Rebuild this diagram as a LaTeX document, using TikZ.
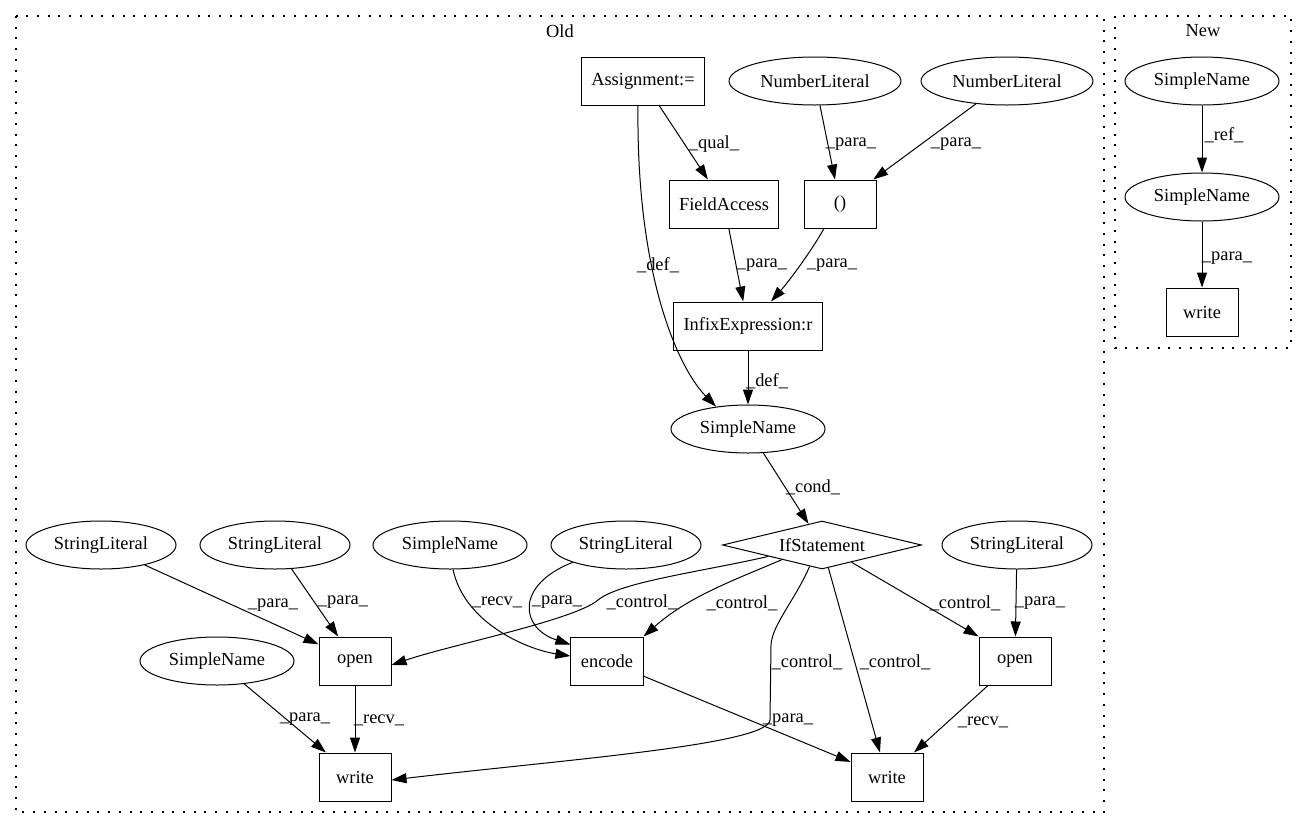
\documentclass[tikz,border=0pt]{standalone}
\usepackage{fontspec}
\setmainfont{Liberation Serif}
\usetikzlibrary{shapes.geometric,arrows.meta}

\tikzset{
  box/.style={draw, rectangle, line width=1, minimum width=72, minimum height=48, inner xsep=10},
  ell/.style={draw, ellipse, line width=1, minimum height=48, inner sep=0},
  sname/.style={ell, minimum width=154},
  slit/.style={ell, minimum width=150},
  nlit/.style={ell, minimum width=172},
  edge/.style={-{Triangle[length=15,width=10]}, line width=1},
  lbl/.style={inner sep=1},
  cluster/.style={line width=1.3, dash pattern=on 2pt off 8.7pt, line cap=butt}
}

\begin{document}
\begin{tikzpicture}[x=1pt, y=-1pt, font=\fontsize{18.4}{22}\selectfont]
  \useasboundingbox (0,0) rectangle (1307,828);
  % clusters
  \draw[cluster] (16,16) rectangle (1104,812);
  \node (old) at (560,31) {Old};
  \draw[cluster] (1115,16) rectangle (1291,348);
  \node (new) at (1203,31) {New};

  % Old graph
  \node[box] (asg) at (643,81) {Assignment:=};
  \node[nlit] (num1) at (815,81) {NumberLiteral};
  \node[nlit] (num2) at (1007,81) {NumberLiteral};
  \node[box] (fa) at (724,204) {FieldAccess};
  \node[box] (par) at (840,204) {()};
  \node[box] (infix) at (748,326) {InfixExpression:r};
  \node[sname] (sn) at (748,429) {SimpleName};
  \node[draw, diamond, line width=1, aspect=4.15, inner sep=0, minimum width=199, minimum height=48] (ifs) at (822,545) {IfStatement};
  \node[slit] (sl1) at (101,545) {StringLiteral};
  \node[slit] (sl2) at (275,545) {StringLiteral};
  \node[sname] (sn2) at (450,545) {SimpleName};
  \node[slit] (sl3) at (626,545) {StringLiteral};
  \node[slit] (sl4) at (1017,545) {StringLiteral};
  \node[sname] (sn3) at (217,661) {SimpleName};
  \node[box] (open1) at (355,661) {open};
  \node[box] (enc) at (607,661) {encode};
  \node[box] (open2) at (1015,661) {open};
  \node[box] (write1) at (355,777) {write};
  \node[box] (write2) at (887,777) {write};

  % New graph
  \node[sname] (nsn1) at (1202,81) {SimpleName};
  \node[sname] (nsn2) at (1202,197) {SimpleName};
  \node[box] (nwrite) at (1202,312) {write};

  % edges, Old
  \draw[edge] (asg) -- (fa);
  \node[lbl] (l1) at (714,144) {\_qual\_};
  \draw[edge] ([xshift=-5]asg.south) .. controls (636,280) and (680,370) .. (sn.145);
  \node[lbl] (l2) at (658,265) {\_def\_};
  \draw[edge] (num1) -- (par);
  \node[lbl] (l3) at (851,144) {\_para\_};
  \draw[edge] (num2) -- (par);
  \node[lbl] (l4) at (956,144) {\_para\_};
  \draw[edge] (fa) -- (infix);
  \node[lbl] (l5) at (762,265) {\_para\_};
  \draw[edge] ([xshift=-16]par.south) .. controls (812,250) and (790,280) .. ([xshift=23]infix.north);
  \node[lbl] (l6) at (832,265) {\_para\_};
  \draw[edge] (infix) -- (sn);
  \node[lbl] (l7) at (767,381) {\_def\_};
  \draw[edge] (sn) -- (ifs);
  \node[lbl] (l8) at (813,487) {\_cond\_};

  \draw[edge] (ifs.192) .. controls (700,572) and (620,582) .. (598,600)
    .. controls (575,620) and (450,645) .. ([yshift=-4]open1.east);
  \node[lbl] (l9) at (642,602) {\_control\_};
  \draw[edge] (ifs.200) .. controls (740,578) and (690,595) .. (enc.north east);
  \node[lbl] (l10) at (742,603) {\_control\_};
  \draw[edge] (ifs.240) .. controls (795,600) and (772,625) .. (771,645) -- (770,720)
    .. controls (768,745) and (560,760) .. ([yshift=-3]write1.east);
  \node[lbl] (l11) at (807,662) {\_control\_};
  \draw[edge] (ifs) -- ([xshift=-7]write2.north);
  \node[lbl] (l12) at (895,662) {\_control\_};
  \draw[edge] (ifs) -- (open2.north west);
  \node[lbl] (l13) at (965,603) {\_control\_};
  \draw[edge] (sl4) -- (open2);
  \node[lbl] (l14) at (1040,603) {\_para\_};
  \draw[edge] (open2) -- (write2);
  \node[lbl] (l15) at (983,722) {\_recv\_};
  \draw[edge] (enc) -- (write2);
  \node[lbl] (l16) at (788,720) {\_para\_};

  \draw[edge] (sl1) -- (open1);
  \node[lbl] (l17) at (273,605) {\_para\_};
  \draw[edge] (sl2) -- (open1);
  \node[lbl] (l18) at (343,602) {\_para\_};
  \draw[edge] (sn3) -- (write1);
  \node[lbl] (l19) at (305,719) {\_para\_};
  \draw[edge] (open1) -- (write1);
  \node[lbl] (l20) at (379,720) {\_recv\_};
  \draw[edge] ([xshift=3]sn2.south) .. controls (465,625) and (530,650) .. ([yshift=5]enc.west);
  \node[lbl] (l21) at (497,602) {\_recv\_};
  \draw[edge] (sl3.198) .. controls (515,585) and (520,628) .. ([yshift=-8]enc.north west);
  \node[lbl] (l22) at (557,602) {\_para\_};

  % edges, New
  \draw[edge] (nsn1) -- (nsn2);
  \node[lbl] (l23) at (1224,135) {\_ref\_};
  \draw[edge] (nsn2) -- (nwrite);
  \node[lbl] (l24) at (1227,258) {\_para\_};
\end{tikzpicture}
\end{document}
